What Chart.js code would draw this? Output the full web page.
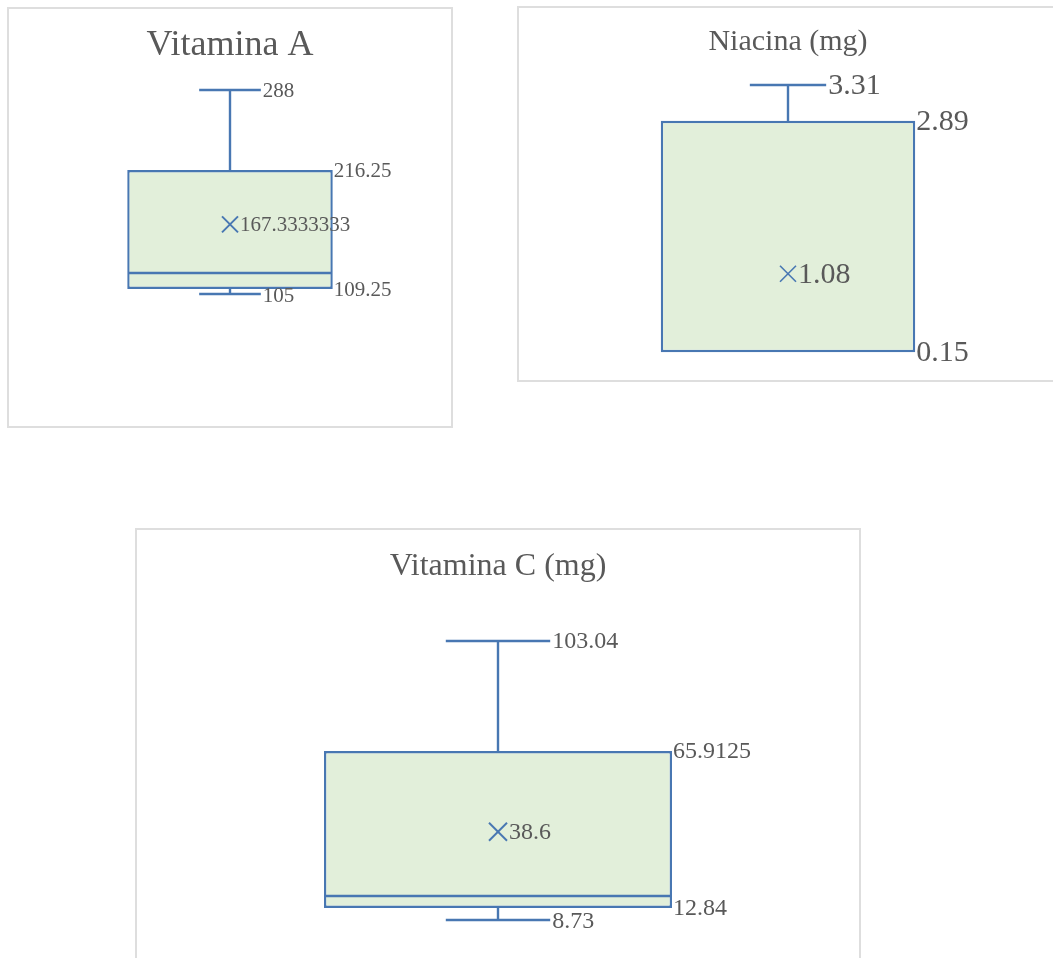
<!DOCTYPE html>
<html>
<head>
<meta charset="utf-8">
<script src="https://cdn.jsdelivr.net/npm/chart.js@4.4.0/dist/chart.umd.min.js"></script>
<style>
  html, body { margin: 0; background: #fff; overflow: hidden; }
  body { width: 1053px; height: 958px; position: relative; }
  .panel { position: absolute; border: 2px solid #dedede; box-sizing: border-box; background: #fff; }
  .panel canvas { display: block; }
</style>
</head>
<body>
<div class="panel" style="left:7px; top:7px; width:446px; height:421px;"><canvas id="boxA" width="442" height="417"></canvas></div>
<div class="panel" style="left:517px; top:6px; width:542px; height:376px;"><canvas id="boxNiacina" width="538" height="372"></canvas></div>
<div class="panel" style="left:135px; top:528px; width:726px; height:440px;"><canvas id="boxC" width="722" height="436"></canvas></div>

<script>
// five-number summary + mean for each nutrient
let titles = ['Vitamina A', 'Niacina (mg)', 'Vitamina C (mg)'];
let minVals = [105, 0.15, 8.73];
let q1Vals = [109.25, 0.15, 12.84];
let medianVals = [123.5, 0.15, 16.8];
let q3Vals = [216.25, 2.89, 65.9125];
let maxVals = [288, 3.31, 103.04];
let meanVals = [167.3333333, 1.08, 38.6];

let lineColor = '#4877b2';
let fillColor = '#e2efda';
let textColor = '#595959';
let serif = '"Liberation Serif", "Times New Roman", serif';
let strokeW = 2.4;

// whiskers, median, mean cross and the value labels
let boxPlotExtras = {
  id: 'boxPlotExtras',
  afterDatasetsDraw(chart, args, opts) {
    let ctx = chart.ctx;
    let y = chart.scales.y;
    let bar = chart.getDatasetMeta(0).data[0];
    let i = opts.index;
    let cx = Math.round(bar.x);
    let half = bar.width / 2;
    let capHalf = bar.width * 0.15;

    let yMin = Math.round(y.getPixelForValue(minVals[i]));
    let yQ1 = Math.round(y.getPixelForValue(q1Vals[i]));
    let yMed = Math.round(y.getPixelForValue(medianVals[i]));
    let yQ3 = Math.round(y.getPixelForValue(q3Vals[i]));
    let yMax = Math.round(y.getPixelForValue(maxVals[i]));
    let yMean = y.getPixelForValue(meanVals[i]);

    function line(x1, y1, x2, y2) {
      ctx.beginPath();
      ctx.moveTo(x1, y1);
      ctx.lineTo(x2, y2);
      ctx.stroke();
    }

    ctx.save();
    ctx.strokeStyle = lineColor;
    ctx.lineWidth = strokeW;

    // upper whisker
    line(cx, yQ3, cx, yMax);
    line(cx - capHalf, yMax, cx + capHalf, yMax);

    // lower whisker (only when it has some length)
    let hasLow = minVals[i] < q1Vals[i];
    if (hasLow) {
      line(cx, yQ1, cx, yMin);
      line(cx - capHalf, yMin, cx + capHalf, yMin);
    }

    // median
    if (medianVals[i] > q1Vals[i]) {
      line(cx - half + 1, yMed, cx + half - 1, yMed);
    }

    // mean marker
    let m = opts.markHalf;
    ctx.lineWidth = opts.markWidth;
    line(cx - m, yMean - m, cx + m, yMean + m);
    line(cx - m, yMean + m, cx + m, yMean - m);

    // labels
    ctx.fillStyle = textColor;
    ctx.font = opts.labelSize + 'px ' + serif;
    ctx.textBaseline = 'middle';
    ctx.textAlign = 'left';
    ctx.fillText(String(maxVals[i]), cx + capHalf + 2, yMax + 1);
    ctx.fillText(String(q3Vals[i]), cx + half + 1, yQ3 + 1);
    ctx.fillText(String(q1Vals[i]), cx + half + 1, yQ1 + 1);
    if (hasLow) {
      ctx.fillText(String(minVals[i]), cx + capHalf + 2, yMin + 2);
    }
    ctx.fillText(String(meanVals[i]), cx + m + 2, yMean + 1);
    ctx.restore();
  }
};

function makeBox(canvasId, i, look) {
  return new Chart(document.getElementById(canvasId), {
    type: 'bar',
    data: {
      labels: [titles[i]],
      datasets: [{
        data: [[q1Vals[i], q3Vals[i]]],
        backgroundColor: fillColor,
        borderColor: lineColor,
        borderWidth: strokeW,
        borderSkipped: false,
        barPercentage: look.barPct,
        categoryPercentage: 1
      }]
    },
    options: {
      responsive: false,
      animation: false,
      events: [],
      layout: { padding: { top: 0, bottom: look.bottomPad, left: 0, right: 0 } },
      scales: {
        x: { display: false },
        y: { display: false, min: look.yMin, max: look.yMax }
      },
      plugins: {
        legend: { display: false },
        tooltip: { enabled: false },
        title: {
          display: true,
          text: titles[i],
          color: textColor,
          font: { family: serif, size: look.titleSize, weight: 'normal', lineHeight: 1.2 },
          padding: { top: look.titleTop, bottom: 0 }
        },
        boxPlotExtras: {
          index: i,
          labelSize: look.labelSize,
          markHalf: look.markHalf,
          markWidth: look.markWidth
        }
      }
    },
    plugins: [boxPlotExtras]
  });
}

let chartA = makeBox('boxA', 0, {
  barPct: 0.465, yMin: 4, yMax: 308.7, bottomPad: 20,
  titleSize: 36, titleTop: 15, labelSize: 21, markHalf: 8, markWidth: 2
});

let chartNiacina = makeBox('boxNiacina', 1, {
  barPct: 0.473, yMin: -0.06, yMax: 3.61, bottomPad: 10,
  titleSize: 30, titleTop: 16, labelSize: 30, markHalf: 8, markWidth: 1.6
});

let chartC = makeBox('boxC', 2, {
  barPct: 0.482, yMin: -1.36, yMax: 121.9, bottomPad: 16,
  titleSize: 32, titleTop: 17, labelSize: 24, markHalf: 9, markWidth: 2
});
</script>
</body>
</html>
